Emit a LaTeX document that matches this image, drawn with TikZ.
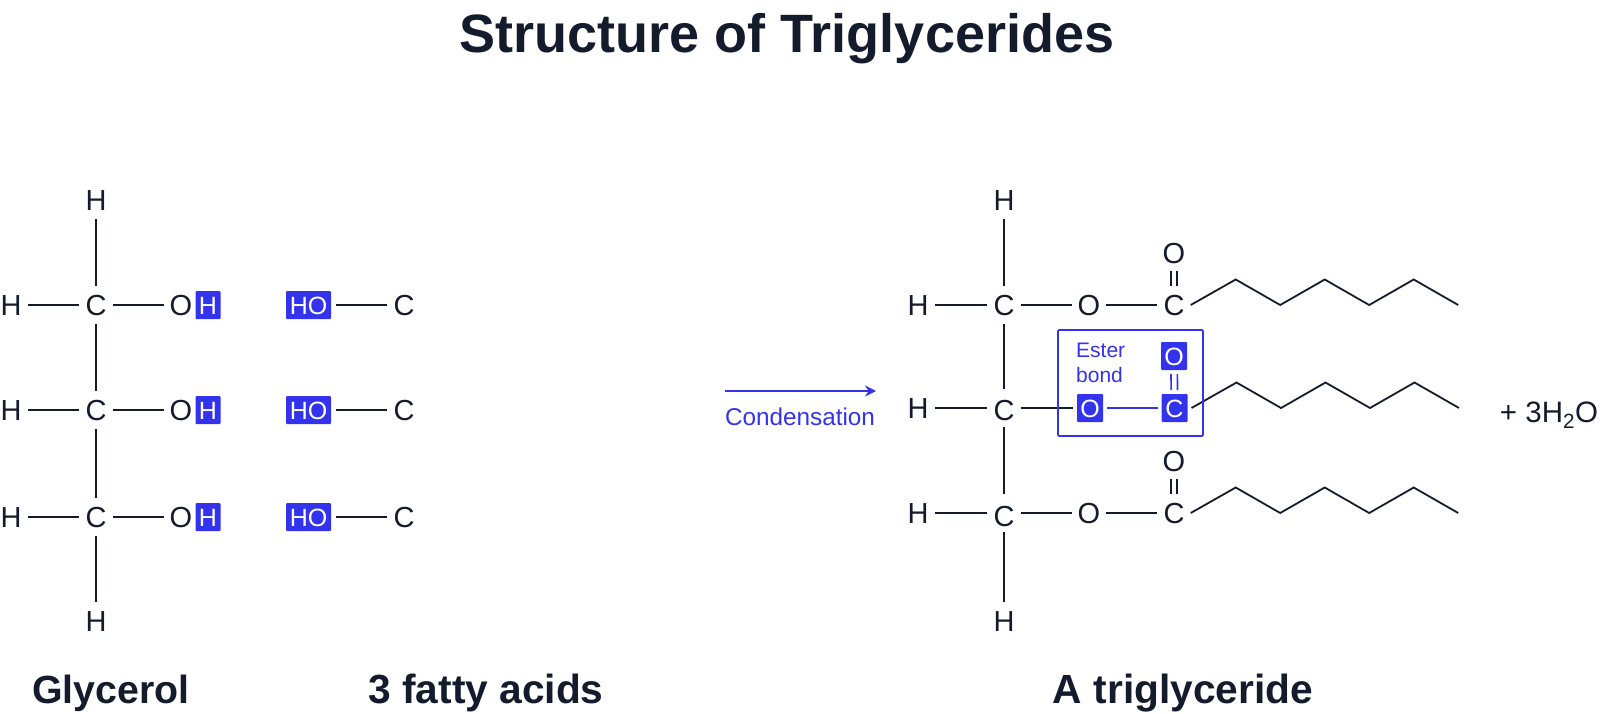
\documentclass[tikz,border=0pt]{standalone}
\usepackage{fontspec}
\setmainfont{Liberation Sans}
\usetikzlibrary{arrows.meta}
\definecolor{ink}{HTML}{141B2D}
\definecolor{accent}{HTML}{3333EE}
\tikzset{
  x=1pt,y=-1pt,
  atom/.style={rectangle,inner sep=0pt,minimum width=33pt,minimum height=38pt,text=ink,font=\fontsize{29}{29}\selectfont,text height=20.6pt,text depth=0pt},
  lowatom/.style={atom,text height=24pt},
  loweratom/.style={atom,text height=27pt},
  hiatom/.style={rectangle,fill=accent,rounded corners=1pt,inner sep=0pt,outer sep=4pt,minimum height=28pt,text=white,font=\fontsize{25}{25}\selectfont,text height=18pt,text depth=0pt},
  bond/.style={draw=ink,line width=1.8pt},
  hibond/.style={draw=accent,line width=1.6pt},
  headline/.style={inner sep=0pt,anchor=base,text=ink},
  plain/.style={inner sep=0pt,text=accent},
}
\newcommand{\chain}[1]{%
  \draw[bond] (#1.east) -- ++(45,-25.5) -- ++(44.5,25.5) -- ++(44.5,-25.5) -- ++(44.5,25.5) -- ++(44.5,-25.5) -- ++(44.5,25.5);}
\begin{document}
\begin{tikzpicture}
\useasboundingbox (0,0) rectangle (1600,713);
\node[headline,font=\bfseries\fontsize{54}{54}\selectfont] (title) at (787,52) {Structure of Triglycerides};
% glycerol
\node[atom] (gt) at (96,200) {H};
\node[atom] (gb) at (96,621) {H};
\foreach \n/\y in {1/305,2/410,3/517}{
  \node[atom] (gh\n) at (11,\y) {H};
  \node[atom] (gc\n) at (96,\y) {C};
  \node[atom] (go\n) at (181,\y) {O};
  \node[hiatom,minimum width=25pt] (gx\n) at (208,\y) {H};
  \node[hiatom,minimum width=45pt,outer sep=4.5pt] (fo\n) at (308.5,\y) {HO};
  \node[atom] (fc\n) at (404,\y) {C};
  \draw[bond] (gh\n) -- (gc\n);
  \draw[bond] (gc\n) -- (go\n);
  \draw[bond] (fo\n) -- (fc\n);
}
\draw[bond] (gt) -- (gc1);
\draw[bond] (gc1) -- (gc2);
\draw[bond] (gc2) -- (gc3);
\draw[bond] (gc3) -- (gb);
% arrow
\coordinate (as) at (725,391);
\coordinate (ae) at (876,391);
\draw[hibond,-{Stealth[length=11pt,width=11pt]}] (as) -- (ae);
\node[plain,font=\fontsize{24.3}{24.3}\selectfont] (cond) at (800,417) {Condensation};
% triglyceride
\node[atom] (tt) at (1004,200) {H};
\node[atom] (tb) at (1004,621) {H};
\node[atom] (th1) at (918,305) {H};
\node[atom] (tc1) at (1004,305) {C};
\node[atom] (th2) at (918,408) {H};
\node[lowatom] (tc2) at (1004,408) {C};
\node[atom] (th3) at (918,513) {H};
\node[loweratom] (tc3) at (1004,513) {C};
\foreach \n in {1,2,3}{\draw[bond] (th\n) -- (tc\n);}
\draw[bond] (tt) -- (tc1);
\draw[bond] (tc1) -- (tc2);
\draw[bond] (tc2) -- (tc3);
\draw[bond] (tc3) -- (tb);
\foreach \n/\y in {1/305,3/513}{
  \node[atom] (to\n) at (1089,\y) {O};
  \node[atom] (tk\n) at (1174,\y) {C};
  \node[atom,minimum height=34pt] (td\n) at (1174,\y-51.5) {O};
  \draw[bond] (tc\n) -- (to\n);
  \draw[bond] (to\n) -- (tk\n);
  \draw[bond,transform canvas={xshift=-3.2pt}] (td\n) -- (tk\n);
  \draw[bond,transform canvas={xshift=3.2pt}] (td\n) -- (tk\n);
  \chain{tk\n}
}
\node[hiatom,minimum width=26pt] (to2) at (1090,408) {O};
\node[hiatom,minimum width=26pt] (tk2) at (1174.5,408) {C};
\node[hiatom,minimum width=26pt] (td2) at (1174,356) {O};
\draw[bond] (tc2) -- (to2);
\draw[hibond] (to2) -- (tk2);
\draw[hibond,transform canvas={xshift=-3.2pt}] (td2) -- (tk2);
\draw[hibond,transform canvas={xshift=3.2pt}] (td2) -- (tk2);
\chain{tk2}
\node[draw=accent,line width=1.7pt,rounded corners=1pt,inner sep=0pt,minimum width=145pt,minimum height=106pt] (ester) at (1130.5,383) {};
\node[plain,font=\fontsize{21}{25}\selectfont,align=left,anchor=north west] (esterlabel) at (1076,342.5) {Ester\\bond};
\node[inner sep=0pt,text=ink,font=\fontsize{29.5}{29.5}\selectfont] (water) at (1549,415) {+ 3H\textsubscript{2}O};
% labels
\node[headline,font=\bfseries\fontsize{39.3}{39.3}\selectfont] (l1) at (111,703) {Glycerol};
\node[headline,font=\bfseries\fontsize{40.7}{40.7}\selectfont] (l2) at (486,703) {3 fatty acids};
\node[headline,font=\bfseries\fontsize{40.7}{40.7}\selectfont] (l3) at (1183,703) {A triglyceride};
\end{tikzpicture}
\end{document}
